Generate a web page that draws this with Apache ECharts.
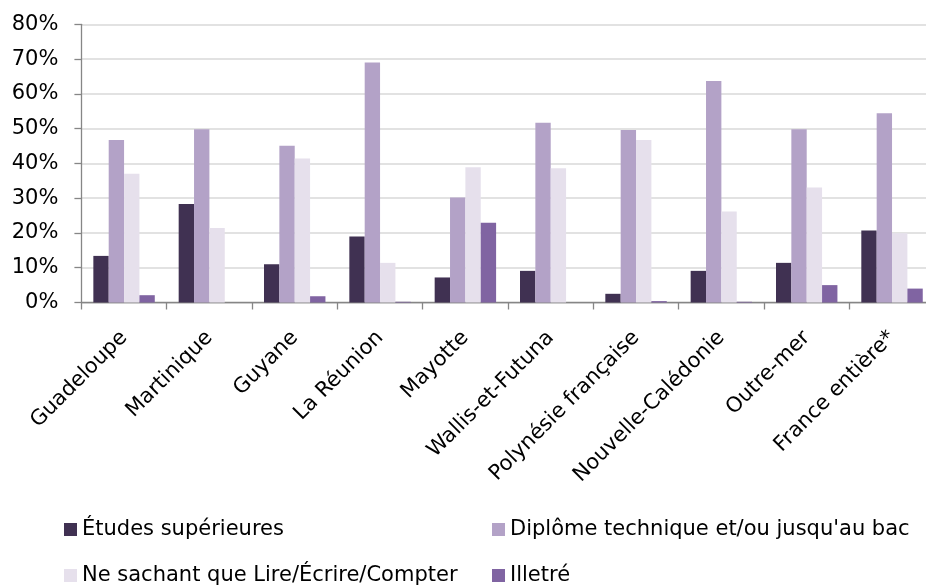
<!DOCTYPE html>
<html>
<head>
<meta charset="utf-8">
<title>Niveau d'études</title>
<script src="https://cdn.jsdelivr.net/npm/echarts@6/dist/echarts.min.js"></script>
<style>
  html, body { margin: 0; padding: 0; background: #fff; }
  #chart { width: 926px; height: 585px; }
</style>
</head>
<body>
<div id="chart"></div>
<script>
// Territoires
const categories = ['Guadeloupe', 'Martinique', 'Guyane', 'La Réunion', 'Mayotte',
  'Wallis-et-Futuna', 'Polynésie française', 'Nouvelle-Calédonie', 'Outre-mer', 'France entière*'];

// Parts de la population (%)
const etudesSup = [13.4, 28.3, 11.0, 19.0, 7.2, 9.1, 2.5, 9.1, 11.4, 20.7];
const diplomeBac = [46.7, 49.8, 45.1, 69.0, 30.2, 51.7, 49.6, 63.7, 49.8, 54.4];
const lireEcrire = [37.0, 21.4, 41.4, 11.4, 38.9, 38.6, 46.7, 26.2, 33.1, 19.9];
const illettre = [2.1, 0, 1.8, 0.2, 22.9, 0, 0.4, 0.2, 5.0, 4.0];

const seriesNames = ['Études supérieures', 'Diplôme technique et/ou jusqu\'au bac',
  'Ne sachant que Lire/Écrire/Compter', 'Illetré'];
const seriesColors = ['#403152', '#B3A2C7', '#E6E0EC', '#8064A2'];

// Axe des valeurs
const yMin = 0, yMax = 80, yStep = 10;

const FONT = 'DejaVu Sans';
const chart = echarts.init(document.getElementById('chart'), null, { renderer: 'canvas' });

function legendAt(name, left, top) {
  return {
    data: [name], left: left, top: top, orient: 'horizontal',
    itemWidth: 13, itemHeight: 13, itemGap: 0, icon: 'rect',
    selectedMode: false,
    textStyle: { fontFamily: FONT, fontSize: 21, color: '#000', padding: [0, 0, 0, 0] }
  };
}

const values = [etudesSup, diplomeBac, lireEcrire, illettre];

chart.setOption({
  animation: false,
  backgroundColor: '#ffffff',
  grid: {
    left: 81.4, top: 24.3, width: 853.3, height: 278.2,
    containLabel: false, outerBoundsMode: 'none'
  },
  legend: [
    legendAt(seriesNames[0], 59, 514),
    legendAt(seriesNames[2], 59, 560),
    legendAt(seriesNames[1], 487, 514),
    legendAt(seriesNames[3], 487, 560)
  ],
  xAxis: {
    type: 'category',
    data: categories,
    boundaryGap: true,
    axisLine: { show: true, lineStyle: { color: '#868686', width: 1.3 } },
    axisTick: { show: true, length: 7, lineStyle: { color: '#868686', width: 1.3 } },
    axisLabel: {
      rotate: 45, interval: 0, margin: 32,
      fontFamily: FONT, fontSize: 21, color: '#000'
    },
    splitLine: { show: false }
  },
  yAxis: {
    type: 'value',
    min: yMin, max: yMax, interval: yStep,
    axisLine: { show: true, lineStyle: { color: '#868686', width: 1.3 } },
    axisTick: { show: true, length: 7, lineStyle: { color: '#868686', width: 1.3 } },
    axisLabel: {
      formatter: '{value}%', margin: 23,
      fontFamily: FONT, fontSize: 21, color: '#000'
    },
    splitLine: { show: true, lineStyle: { color: '#d9d9d9', width: 1.5 } }
  },
  series: seriesNames.map((name, i) => ({
    name: name,
    type: 'bar',
    data: values[i],
    barGap: '0%',
    barCategoryGap: '28%',
    itemStyle: { color: seriesColors[i] }
  }))
});
</script>
</body>
</html>
